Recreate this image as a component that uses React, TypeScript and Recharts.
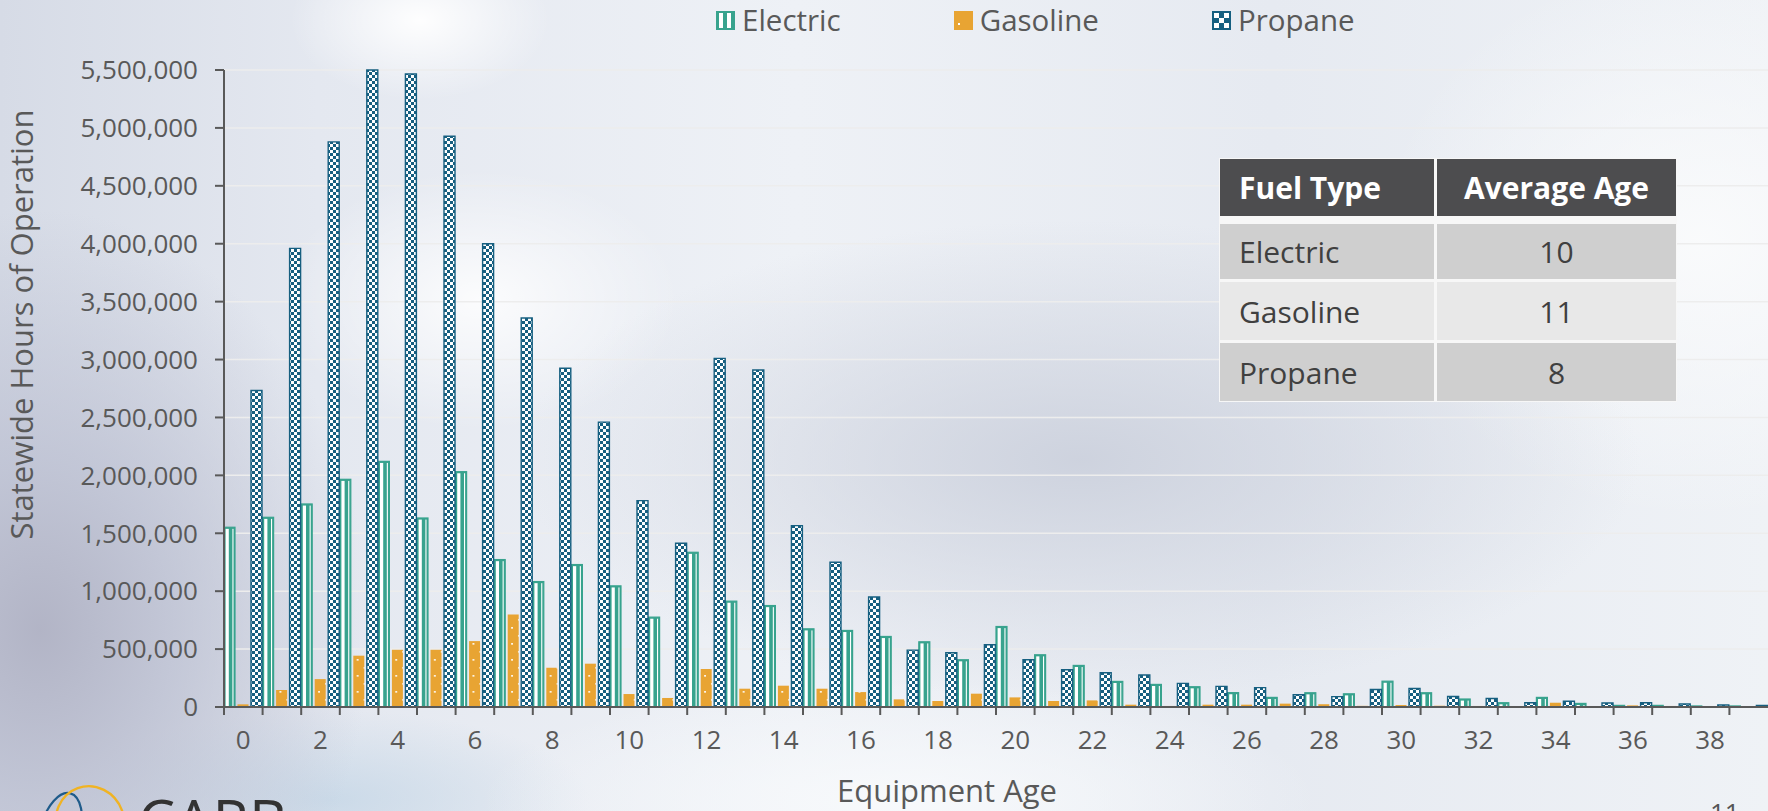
import { BarChart, Bar, XAxis, YAxis, CartesianGrid } from 'recharts';

// Equipment age categories
const ages = [
  0, 1, 2, 3, 4, 5, 6, 7, 8, 9, 10, 11, 12, 13, 14, 15, 16, 17, 18, 19,
  20, 21, 22, 23, 24, 25, 26, 27, 28, 29, 30, 31, 32, 33, 34, 35, 36, 37, 38, 39,
];

// Statewide hours of operation by fuel type
const electricHours = [
  1552000, 1638000, 1753000, 1966000, 2121000, 1632000, 2032000, 1273000, 1083000, 1230000,
  1046000, 776000, 1336000, 914000, 876000, 675000, 661000, 609000, 563000, 408000,
  695000, 451000, 359000, 221000, 195000, 175000, 124000, 83000, 123000, 114000,
  223000, 123000, 69000, 37000, 83000, 31000, 14000, 14000, 9000, 9000,
];
const gasolineHours = [
  23000, 147000, 241000, 443000, 494000, 494000, 569000, 799000, 339000, 374000,
  112000, 78000, 328000, 158000, 184000, 158000, 129000, 66000, 52000, 115000,
  83000, 52000, 57000, 20000, 9000, 20000, 20000, 29000, 24000, 10000,
  17000, 11000, 9000, 3000, 37000, 6000, 14000, 9000, 3000, 2000,
];
const propaneHours = [
  2733000, 3960000, 4879000, 5500000, 5466000, 4928000, 4000000, 3359000, 2925000, 2460000,
  1782000, 1414000, 3010000, 2910000, 1566000, 1250000, 950000, 491000, 468000, 537000,
  408000, 322000, 296000, 276000, 204000, 178000, 167000, 106000, 90000, 151000,
  160000, 91000, 74000, 37000, 49000, 34000, 37000, 26000, 17000, 14000,
];

const yTicks = [0, 500000, 1000000, 1500000, 2000000, 2500000, 3000000, 3500000, 4000000, 4500000, 5000000, 5500000];

// Average age table
const fuelTypes = ['Electric', 'Gasoline', 'Propane'];
const averageAges = [10, 11, 8];

const W = 1768;
const H = 811;
const PLOT_LEFT = 224;
const PLOT_TOP = 70;
const X_AXIS_H = 104;
const BAND = (W - PLOT_LEFT) / ages.length;

const GREEN = '#38a38e';
const ORANGE = '#e8a433';
const BLUE = '#165f80';
const AXIS = '#595959';
const FONT = "'Open Sans', sans-serif";

const data = ages.map((age, i) => ({
  age,
  electric: electricHours[i],
  gasoline: gasolineHours[i],
  propane: propaneHours[i],
}));

function ElectricShape(props: any) {
  const { x, y, width, height } = props;
  if (!height || height <= 0) return null;
  return (
    <g>
      <rect x={x} y={y} width={width} height={height} fill={GREEN} stroke={GREEN} strokeWidth={1.2} />
      <rect x={x + 1.6} y={y + 1.6} width={3.2} height={Math.max(0, height - 1.6)} fill="#ffffff" />
      <rect x={x + width - 2.6} y={y + 1.6} width={1.1} height={Math.max(0, height - 1.6)} fill="#ffffff" />
    </g>
  );
}

function AgeTick(props: any) {
  const { x, y, index, payload } = props;
  const axisY = y - 8 - 16;
  const left = x - BAND / 2;
  return (
    <g>
      <line x1={left} x2={left} y1={axisY} y2={axisY + 8} stroke={AXIS} strokeWidth={2} />
      {index % 2 === 0 && (
        <text x={x} y={y} dy="0.71em" textAnchor="middle" fontSize={26} fill={AXIS} fontFamily={FONT}>
          {payload.value}
        </text>
      )}
    </g>
  );
}

const yTitle = (p: any) => {
  const vb = p && p.viewBox && p.viewBox.height ? p.viewBox : { x: 0, y: PLOT_TOP, width: PLOT_LEFT, height: H - PLOT_TOP - X_AXIS_H };
  const cx = vb.x + 21;
  const cy = vb.y + vb.height / 2 - 64;
  return (
    <text x={cx} y={cy} transform={`rotate(-90 ${cx} ${cy})`} textAnchor="middle" dominantBaseline="central" fontSize={31} fill={AXIS} fontFamily={FONT}>
      Statewide Hours of Operation
    </text>
  );
};

const xTitle = (p: any) => {
  const vb = p && p.viewBox && p.viewBox.width ? p.viewBox : { x: PLOT_LEFT, y: H - X_AXIS_H, width: W - PLOT_LEFT, height: X_AXIS_H };
  const cx = vb.x + vb.width / 2 - 49;
  const cy = vb.y + 83;
  return (
    <text x={cx} y={cy} textAnchor="middle" dominantBaseline="central" fontSize={31} fill={AXIS} fontFamily={FONT}>
      Equipment Age
    </text>
  );
};

const series = [
  { key: 'electric', name: 'Electric' },
  { key: 'gasoline', name: 'Gasoline' },
  { key: 'propane', name: 'Propane' },
];

function LegendIcon({ k }: { k: string }) {
  if (k === 'electric') {
    return (
      <svg width={19} height={19} style={{ display: 'block' }}>
        <rect x={0} y={0} width={19} height={19} fill={GREEN} />
        <rect x={3} y={2} width={4} height={15} fill="#fff" />
        <rect x={11} y={2} width={4} height={15} fill="#fff" />
      </svg>
    );
  }
  if (k === 'gasoline') {
    return (
      <svg width={19} height={19} style={{ display: 'block' }}>
        <rect x={0} y={0} width={19} height={19} fill={ORANGE} />
        <rect x={4} y={12} width={2} height={2} fill="#fff" />
      </svg>
    );
  }
  return (
    <svg width={19} height={19} style={{ display: 'block' }}>
      <rect x={0} y={0} width={19} height={19} fill={BLUE} />
      {[0, 1, 2].map((r) =>
        [0, 1, 2].map((c) => ((r + c) % 2 === 0 ? <rect key={`${r}-${c}`} x={2 + c * 5} y={2 + r * 5} width={5} height={5} fill="#fff" /> : null))
      )}
    </svg>
  );
}

const background = [
  'radial-gradient(ellipse 330px 420px at 40px 630px, rgba(176,178,196,0.95) 0%, rgba(186,190,208,0.75) 40%, rgba(200,206,220,0) 100%)',
  'radial-gradient(ellipse 560px 240px at 1080px 460px, rgba(204,209,221,0.95) 0%, rgba(210,215,226,0) 100%)',
  'radial-gradient(ellipse 200px 130px at 480px 300px, rgba(255,255,255,0.85), rgba(255,255,255,0))',
  'radial-gradient(ellipse 130px 80px at 420px 20px, rgba(255,255,255,0.95), rgba(255,255,255,0))',
  'radial-gradient(ellipse 320px 280px at 1700px 240px, rgba(250,251,252,0.95), rgba(250,251,252,0))',
  'radial-gradient(ellipse 420px 120px at 900px 800px, rgba(248,250,252,0.95), rgba(248,250,252,0))',
  'radial-gradient(ellipse 260px 90px at 330px 800px, rgba(196,214,230,0.8), rgba(196,214,230,0))',
  'linear-gradient(90deg, #d6dbe6 0%, #e4e8f0 18%, #eef1f6 45%, #e6eaf1 72%, #eff2f6 100%)',
].join(', ');

export default function App() {
  return (
    <div
      style={{
        position: 'absolute',
        left: 0,
        top: 0,
        width: W,
        height: H,
        overflow: 'hidden',
        background,
        fontFamily: FONT,
      }}
    >
      <BarChart
        width={W}
        height={H}
        data={data}
        margin={{ top: PLOT_TOP, right: 0, bottom: 0, left: 0 }}
        barSize={11}
        barGap={2.5}
        style={{ position: 'absolute', left: 0, top: 0 }}
      >
        <defs>
          <pattern id="checker" width={6} height={6} patternUnits="userSpaceOnUse">
            <rect width={6} height={6} fill={BLUE} />
            <rect x={0} y={0} width={3} height={3} fill="#ffffff" />
            <rect x={3} y={3} width={3} height={3} fill="#ffffff" />
          </pattern>
          <pattern id="dots" x={PLOT_LEFT} y={0} width={BAND} height={16} patternUnits="userSpaceOnUse">
            <rect width={BAND} height={16} fill={ORANGE} />
            <rect x={17} y={3} width={1.7} height={1.7} fill="#ffffff" />
            <rect x={24} y={11} width={1.7} height={1.7} fill="#ffffff" />
          </pattern>
        </defs>
        <CartesianGrid vertical={false} stroke="#ededed" strokeWidth={1.5} />
        <XAxis
          dataKey="age"
          interval={0}
          height={X_AXIS_H}
          tickSize={8}
          tickMargin={16}
          tickLine={false}
          axisLine={{ stroke: AXIS, strokeWidth: 2 }}
          tick={<AgeTick />}
          label={xTitle}
        />
        <YAxis
          width={PLOT_LEFT}
          domain={[0, 5500000]}
          ticks={yTicks}
          interval={0}
          tickSize={9}
          tickMargin={17}
          axisLine={{ stroke: AXIS, strokeWidth: 2 }}
          tickLine={{ stroke: AXIS, strokeWidth: 2 }}
          tick={{ fontSize: 26, fill: AXIS, fontFamily: FONT }}
          tickFormatter={(v: number) => v.toLocaleString('en-US')}
          label={yTitle}
        />
        <Bar dataKey="electric" name="Electric" isAnimationActive={false} shape={<ElectricShape />} />
        <Bar dataKey="gasoline" name="Gasoline" isAnimationActive={false} fill="url(#dots)" />
        <Bar dataKey="propane" name="Propane" isAnimationActive={false} fill="url(#checker)" stroke={BLUE} strokeWidth={1.4} />
      </BarChart>

      {/* legend */}
      <div style={{ position: 'absolute', left: 716, top: 0, height: 40, display: 'flex', alignItems: 'center', gap: 113 }}>
        {series.map((s) => (
          <div key={s.key} style={{ display: 'flex', alignItems: 'center', gap: 7 }}>
            <LegendIcon k={s.key} />
            <span style={{ fontSize: 29.5, lineHeight: '40px', color: AXIS }}>{s.name}</span>
          </div>
        ))}
      </div>

      {/* average age table */}
      <div
        style={{
          position: 'absolute',
          left: 1219,
          top: 158,
          width: 458,
          padding: 1,
          background: '#f7f7f7',
          display: 'grid',
          gridTemplateColumns: '214px 239px',
          gridTemplateRows: '57px 60px 58px 58px',
          columnGap: 3,
          rowGap: 3,
          boxSizing: 'border-box',
        }}
      >
        <div style={{ background: '#4d4d4f', color: '#fff', fontWeight: 700, fontSize: 30, display: 'flex', alignItems: 'center', paddingLeft: 19 }}>Fuel Type</div>
        <div style={{ background: '#4d4d4f', color: '#fff', fontWeight: 700, fontSize: 30, display: 'flex', alignItems: 'center', justifyContent: 'center' }}>Average Age</div>
        {fuelTypes.map((f, i) => {
          const bg = i % 2 === 0 ? '#cfcfcf' : '#e8e8e8';
          return [
            <div key={`f${i}`} style={{ background: bg, color: '#404040', fontSize: 30, display: 'flex', alignItems: 'center', paddingLeft: 19, marginTop: i === 0 ? 5 : 0 }}>{f}</div>,
            <div key={`a${i}`} style={{ background: bg, color: '#404040', fontSize: 30, display: 'flex', alignItems: 'center', justifyContent: 'center', marginTop: i === 0 ? 5 : 0 }}>{averageAges[i]}</div>,
          ];
        })}
      </div>

      {/* slide footer */}
      <svg width={W} height={H} style={{ position: 'absolute', left: 0, top: 0, pointerEvents: 'none' }}>
        <ellipse cx={60} cy={832} rx={20} ry={40} fill="none" stroke="#1f5b8a" strokeWidth={2.2} transform="rotate(15 60 832)" />
        <ellipse cx={90} cy={822} rx={34} ry={36} fill="none" stroke="#f0b323" strokeWidth={2.4} transform="rotate(-20 90 822)" />
        <text x={138} y={842} fontSize={59} fill="#333333" fontFamily={FONT}>CARB</text>
        <text x={1710} y={822} fontSize={26} fill="#555555" fontFamily={FONT}>11</text>
      </svg>
    </div>
  );
}
